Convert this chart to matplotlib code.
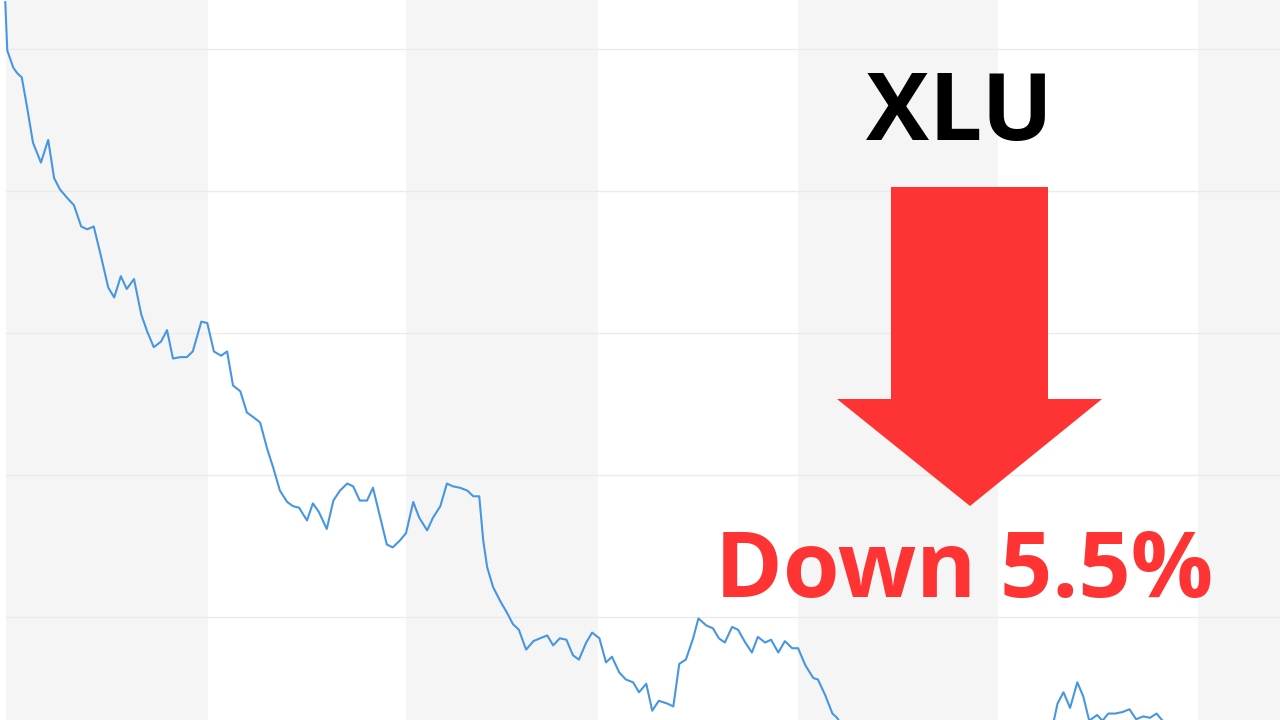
import matplotlib
matplotlib.use('Agg')
import matplotlib.pyplot as plt
from matplotlib.patches import Polygon

# XLU price path (day index, price)
days = [0.8, 1.1, 2.0, 2.6, 3.3, 4.1, 5.0, 6.2, 7.3, 8.2, 9.1, 10.2, 11.2, 12.3, 13.2,
        14.2, 15.2, 16.4, 17.3, 18.3, 19.2, 20.3, 21.4, 22.3, 23.3, 24.4, 25.3, 26.2,
        27.3, 28.3, 29.2, 30.5, 31.4, 32.4, 33.5, 34.4, 35.3, 36.4, 37.4, 38.3, 39.4,
        40.5, 41.4, 42.4, 43.5, 44.4, 45.3, 46.5, 47.4, 48.3, 49.5, 50.5, 51.5, 52.6,
        53.5, 54.5, 55.6, 56.5, 57.6, 58.6, 59.5, 60.6, 61.5, 62.6, 63.5, 64.7, 65.6,
        66.7, 67.7, 68.6, 69.7, 70.8, 71.7, 72.6, 73.2, 73.8, 74.7, 75.8, 76.8, 77.7,
        78.6, 79.7, 80.8, 81.8, 82.9, 83.8, 84.8, 85.8, 86.8, 87.7, 88.8, 89.7, 90.8,
        91.8, 92.7, 93.8, 94.8, 95.9, 96.8, 97.9, 98.8, 99.8, 101.1, 102.0, 102.9,
        103.9, 105.0, 105.8, 107.0, 108.0, 108.9, 109.8, 110.9, 111.8, 112.9, 113.9,
        114.8, 115.9, 116.8, 117.9, 118.9, 120.0, 120.9, 122.0, 123.2, 123.9, 125.0,
        126.1, 126.8, 128.0, 131.8, 136.4, 140.9, 145.5, 150.0, 154.5, 158.3, 159.5,
        160.2, 161.1, 162.1, 163.2, 164.1, 165.0, 166.2, 167.0, 167.9, 168.9, 170.0,
        171.1, 172.1, 173.2, 174.2, 175.2, 176.1, 177.3, 178.2]
prices = [70.33, 69.99, 69.87, 69.83, 69.80, 69.59, 69.34, 69.20, 69.36, 69.09, 69.01,
          68.95, 68.90, 68.75, 68.73, 68.75, 68.56, 68.32, 68.25, 68.40, 68.31, 68.38,
          68.13, 68.01, 67.90, 67.94, 68.02, 67.82, 67.83, 67.83, 67.87, 68.08, 68.07,
          67.87, 67.84, 67.87, 67.63, 67.59, 67.44, 67.41, 67.37, 67.18, 67.05, 66.89,
          66.81, 66.78, 66.77, 66.68, 66.80, 66.74, 66.62, 66.82, 66.89, 66.94, 66.92,
          66.82, 66.82, 66.91, 66.70, 66.51, 66.49, 66.54, 66.59, 66.81, 66.70, 66.61,
          66.70, 66.78, 66.94, 66.92, 66.91, 66.89, 66.85, 66.85, 66.54, 66.35, 66.21,
          66.11, 66.03, 65.95, 65.91, 65.77, 65.83, 65.85, 65.87, 65.80, 65.85, 65.84,
          65.73, 65.70, 65.82, 65.89, 65.85, 65.68, 65.72, 65.61, 65.56, 65.54, 65.47,
          65.53, 65.34, 65.41, 65.39, 65.37, 65.67, 65.70, 65.85, 65.99, 65.94, 65.92,
          65.85, 65.82, 65.93, 65.91, 65.82, 65.75, 65.86, 65.82, 65.84, 65.75, 65.83,
          65.78, 65.78, 65.66, 65.57, 65.56, 65.45, 65.32, 65.29, 65.20, 65.13, 65.17,
          65.10, 65.15, 65.06, 65.12, 65.17, 65.24, 65.39, 65.47, 65.36, 65.54, 65.44,
          65.27, 65.31, 65.27, 65.32, 65.32, 65.33, 65.35, 65.28, 65.30, 65.29, 65.32,
          65.27, 65.26, 65.24]

# month boundaries (days) for the shaded columns
month_edges = [0.9, 31.5, 61.5, 90.6, 120.9, 151.2, 181.5, 194.0]
grid_prices = [70, 69, 68, 67, 66]

ticker = 'XLU'
change_label = 'Down 5.5%'

RED = '#fe3434'
BLUE = '#4796e2'

fig = plt.figure(figsize=(12.8, 7.2), dpi=100)
ax = fig.add_axes([0, 0, 1, 1])
ax.set_xlim(0, 193.9)
ax.set_ylim(70.345 - 720 / 142, 70.345)
ax.axis('off')

# alternating month columns
for i in range(0, len(month_edges) - 1, 2):
    ax.axvspan(month_edges[i], month_edges[i + 1], color='#f5f5f5', zorder=0, lw=0)

for g in grid_prices:
    ax.axhline(g, xmin=month_edges[0] / 193.9, color='#ebebeb', lw=1, zorder=1)

ax.plot(days, prices, color=BLUE, lw=1.5, zorder=3)

# big red down arrow (figure pixels -> fraction)
W, H = 1280, 720
arrow_px = [(891, 187), (1048, 187), (1048, 399), (1102, 399), (970, 506),
            (837, 399), (891, 399)]
arrow = Polygon([(x / W, 1 - y / H) for x, y in arrow_px], closed=True,
                facecolor=RED, edgecolor='none', transform=fig.transFigure, zorder=5)
fig.patches.append(arrow)

fig.text(959 / W, 1 - 140 / H, ticker, ha='center', va='baseline',
         fontsize=68, fontweight='bold', color='black', family='Open Sans')
fig.text(964 / W, 1 - 597 / H, change_label, ha='center', va='baseline',
         fontsize=66, fontweight='bold', color=RED, family='Open Sans')

fig.savefig('out.png', dpi=100)
